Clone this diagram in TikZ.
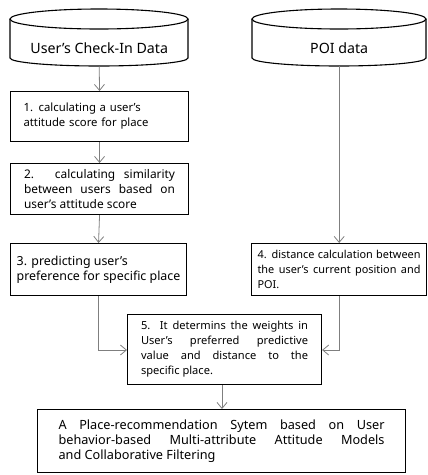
\documentclass[tikz,border=0pt]{standalone}
\usepackage{fontspec}
\setmainfont{Noto Sans}
\usetikzlibrary{arrows.meta}
\definecolor{conngray}{HTML}{7F7F7F}
\hyphenpenalty=10000
\exhyphenpenalty=10000
\newcommand{\fs}[1]{\fontsize{#1}{15}\selectfont}
\begin{document}
\begin{tikzpicture}[x=1pt,y=-1pt,
  font=\fs{11.1},
  box/.style={draw=black, line width=1.1pt, rectangle, inner sep=0pt, anchor=north west},
  ghost/.style={rectangle, inner sep=0pt, anchor=north west, font=\fs{14.2}},
  cyl/.style={draw=black, line width=1.1pt, fill=white},
  conn/.style={draw=conngray, line width=0.8pt, -{Straight Barb[length=6pt,width=10pt]}}]
\useasboundingbox (0,0) rectangle (428,475);
% cylinders
\draw[cyl] (10,19) -- (10,58) arc[start angle=180, end angle=0, x radius=89, y radius=8] -- (188,19);
\draw[cyl] (99,19) ellipse[x radius=89, y radius=10];
\draw[cyl] (252,19) -- (252,58) arc[start angle=180, end angle=0, x radius=87, y radius=8] -- (426,19);
\draw[cyl] (339,19) ellipse[x radius=87, y radius=10];
\node[ghost, minimum width=178pt, minimum height=37pt] (c1) at (10,29) {User's Check-In Data};
\node[ghost, minimum width=174pt, minimum height=37pt] (c2) at (252,29) {POI data};
% boxes
\node[box, font=\fs{11.3}, minimum width=178pt, minimum height=50pt, text width=152pt, align=left] (b1) at (10,91)
  {1. calculating a user's\\attitude score for place};
\node[box, font=\fs{11.9}, minimum width=178pt, minimum height=51pt, text width=151pt, align=justify] (b2) at (10,163)
  {2. calculating similarity\linebreak between users based on\linebreak user's attitude score};
\node[box, font=\fs{12.4}, minimum width=176pt, minimum height=52pt, align=left] (b3) at (10,243)
  {3. predicting user's\\preference for specific place};
\node[box, font=\fs{10.9}, minimum width=175pt, minimum height=52pt, text width=163pt, align=justify] (b4) at (251,243)
  {4. distance calculation between\linebreak the user's current position and\linebreak POI.};
\node[box, font=\fs{11.1}, minimum width=194pt, minimum height=70pt, text width=167pt, align=justify] (b5) at (127,314)
  {5. It determins the weights in\linebreak User's preferred predictive\linebreak value and distance to the\linebreak specific place.};
\node[box, font=\fs{12.7}, minimum width=368pt, minimum height=63pt, text width=326pt, align=justify] (b6) at (37,409)
  {A Place-recommendation Sytem based on User\linebreak behavior-based Multi-attribute Attitude Models\linebreak and Collaborative Filtering};
% connectors
\draw[conn] (c1.south) -- (b1.north);
\draw[conn] (b1.south) -- (b2.north);
\draw[conn] (b2.south) -- (b3.north);
\draw[conn] (c2.south) -- (b4.north -| c2.south);
\draw[conn] (b3.south) |- (b5.west |- 0,350);
\draw[conn] (b4.south -| c2.south) |- (b5.east |- 0,350);
\draw[conn] (b5.south -| 222,0) -- (b6.north -| 222,0);
\end{tikzpicture}
\end{document}
